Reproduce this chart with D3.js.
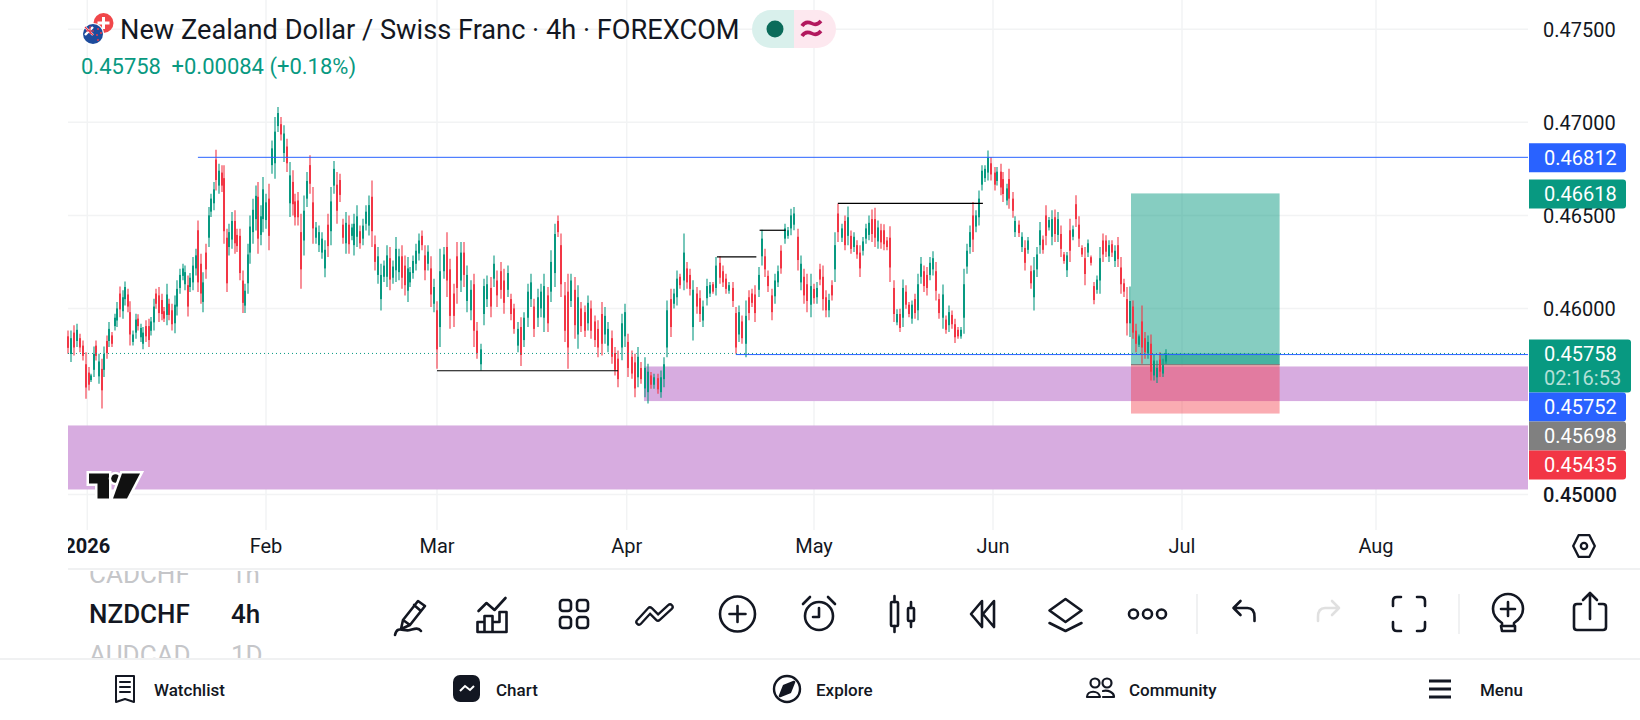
<!DOCTYPE html>
<meta charset="utf-8">
<style>
body { margin: 0; background: #fff; overflow: hidden; }
text { font-family: Roboto, sans-serif; fill: #131722; }
.grid { stroke: #f2f3f4; stroke-width: 1.5px; }
.ico { fill: none; stroke: #131722; stroke-width: 2.6px; stroke-linecap: round; stroke-linejoin: round; }
</style>
<body>
<script src="https://d3js.org/d3.v7.min.js"></script>
<script>

// candles, price in 1e-5 units
var highs = [
45882,45882,45909,45918,45864,45828,45765,45685,45649,45796,
45828,45756,45730,45796,45855,45927,45873,45971,46034,46118,
46097,46145,46106,46039,45882,45971,45968,45918,45900,45936,
45945,45954,46052,46106,46115,46079,46007,46133,46052,46025,
46070,46151,46213,46240,46231,46177,46190,46276,46321,46473,
46294,46195,46348,46545,46616,46679,46853,46778,46769,46769,
46428,46455,46518,46527,46428,46428,46204,46133,46348,46500,
46590,46661,46679,46554,46706,46616,46670,46903,47029,47082,
47029,46984,46912,46787,46742,46616,46625,46509,46607,46733,
46823,46652,46464,46446,46410,46366,46509,46652,46792,46733,
46724,46482,46518,46500,46455,46509,46554,46446,46482,46554,
46607,46688,46392,46330,46240,46258,46339,46330,46258,46384,
46321,46339,46285,46276,46222,46285,46348,46402,46419,46339,
46339,46281,46160,46038,
46321,46330,46410,46267,46133,46357,46357,46357,46231,46151,
46186,45927,45810,46160,46177,46169,46285,46204,46249,46213,
46231,46079,46025,45927,45953,45980,46133,46186,46052,46106,
46133,46186,46115,46312,46455,46500,46402,46142,46186,46186,
46169,46124,46034,46016,46070,46043,45962,45936,46034,46007,
45927,45882,45792,45774,45971,46025,45864,45774,45756,45792,
45712,45738,45703,45658,45649,45649,45667,45738,46043,46106,
46106,46204,46186,46402,46249,46213,46151,46115,46097,46043,
46160,46142,46142,46276,46280,46231,46186,46142,46142,46007,
46016,45962,46043,46097,46106,46124,46222,46423,46321,46204,
46106,46186,46231,46339,46455,46437,46536,46545,46428,46285,
46213,46186,46186,46133,46142,46240,46231,46097,46079,46151,
46410,46563,46455,46500,46548,46419,46410,46366,46339,46384,
46455,46500,46532,46541,46473,46455,46452,46384,46441,46151,
45995,45998,46156,46124,46034,46043,46079,46186,46276,46231,
46222,46276,46307,46249,46079,46129,45962,46016,45989,45945,
45900,45900,46213,46348,46446,46572,46527,46634,46769,46769,
46849,46814,46760,46760,46778,46733,46670,46751,46625,46495,
46473,46410,46366,46384,46231,46276,46330,46464,46392,46554,
46491,46527,46532,46518,46446,46303,46303,46482,46446,46608,
46495,46339,46330,46371,46285,46142,46177,46330,46402,46393,
46366,46366,46339,46384,46276,46160,46115,46118,46043,45918,
45860,46016,45873,45855,45860,45753,45720,45765,45729,45780];

var lows = [
45756,45712,45747,45792,45765,45720,45514,45559,45604,45631,
45720,45595,45462,45631,45730,45792,45792,45882,45900,45953,
45945,46016,45980,45801,45801,45837,45882,45819,45780,45819,
45792,45855,45882,45998,45927,45936,45927,45909,45936,45882,
45867,45962,46079,46151,46097,45957,46088,46097,46177,46088,
46025,45980,46160,46330,46491,46527,46634,46616,46625,46348,
46088,46285,46321,46294,46303,46151,45975,45975,46079,46240,
46348,46419,46294,46339,46410,46428,46312,46724,46697,46948,
46903,46787,46733,46491,46500,46446,46446,46106,46285,46545,
46616,46348,46348,46303,46267,46168,46276,46339,46616,46455,
46572,46348,46294,46294,46366,46285,46330,46321,46339,46419,
46392,46330,46204,46133,45989,46142,46115,46097,46133,46142,
46151,46106,46070,46034,46115,46160,46204,46258,46312,46151,
46204,46007,45980,45676,
45792,46160,46061,45891,45900,46025,46088,46115,45980,45936,
45792,45729,45667,45909,46007,45953,46115,46007,46052,45971,
46061,45936,45864,45765,45690,45792,45900,46007,45846,45900,
45953,45873,45873,46034,46115,46384,46061,45819,45676,46007,
45837,45783,45873,45846,45882,45837,45792,45738,45747,45810,
45765,45703,45640,45577,45721,45792,45631,45622,45523,45577,
45595,45523,45489,45568,45568,45541,45520,45577,45738,45846,
46000,46016,46106,46097,46106,46070,45828,45971,45927,45900,
46016,46061,46079,46070,46133,46115,46079,46079,46007,45756,
45819,45810,45738,45936,46007,45927,46061,46231,46169,46088,
45936,46025,46115,46186,46348,46375,46393,46420,46204,46097,
46025,45980,45953,46025,46025,46124,45989,45953,45953,46043,
46142,46357,46357,46312,46339,46294,46303,46267,46169,46285,
46348,46366,46357,46330,46321,46321,46312,46312,46142,45927,
45909,45873,45900,45998,45953,45918,45945,45936,46133,46088,
46070,46151,46177,46043,45945,45891,45864,45873,45891,45814,
45837,45837,45864,46186,46294,46303,46410,46446,46634,46679,
46688,46688,46634,46661,46608,46572,46554,46536,46487,46384,
46384,46303,46204,46294,46106,45989,46169,46294,46294,46339,
46419,46339,46357,46357,46276,46240,46169,46249,46366,46437,
46330,46276,46124,46276,46231,46022,46079,46079,46249,46276,
46249,46276,46222,46222,46079,46061,45855,45846,45837,45765,
45792,45703,45729,45729,45613,45613,45599,45631,45631,45703];

var opens = [
45850,45755,45870,45825,45840,45800,45700,45655,45615,45670,
45800,45635,45675,45670,45825,45825,45855,45905,45935,46080,
45985,46050,46075,45980,45820,45870,45945,45845,45810,45905,
45905,45880,45925,46080,46070,46045,45985,45965,46025,45990,
45920,46010,46110,46175,46130,46125,46115,46140,46215,46420,
46240,46035,46300,46380,46520,46565,46800,46660,46730,46700,
46380,46330,46370,46470,46395,46390,46150,46015,46135,46300,
46410,46480,46600,46395,46480,46475,46590,46770,46780,46980,
46990,46835,46870,46565,46680,46575,46580,46410,46365,46590,
46770,46570,46380,46340,46300,46215,46450,46415,46660,46665,
46690,46450,46350,46450,46390,46340,46385,46415,46375,46455,
46445,46600,46345,46180,46050,46170,46170,46270,46165,46205,
46195,46280,46230,46095,46140,46190,46240,46295,46390,46285,
46240,46215,46025,45990,
45900,46200,46330,46210,46080,46280,46150,46300,46040,45990,
46130,45880,45700,45970,46050,46110,46160,46150,46200,46150,
46100,46050,46000,45800,45900,45830,45950,46050,46010,45950,
46000,45950,46070,46090,46190,46470,46340,46070,46090,46040,
46100,45860,46000,45980,45920,46000,45930,45890,45970,45860,
45800,45840,45760,45730,45790,45850,45820,45740,45710,45630,
45680,45570,45550,45640,45590,45625,45550,45620,45790,46050,
46025,46060,46170,46150,46215,46180,45900,46080,46055,45935,
46055,46080,46130,46110,46245,46200,46160,46095,46110,45975,
45860,45930,45810,46060,46080,46075,46100,46280,46280,46175,
46070,46065,46140,46310,46375,46390,46430,46450,46385,46140,
46170,46130,46020,46105,46060,46210,46170,46060,45990,46125,
46210,46510,46380,46470,46390,46390,46330,46340,46300,46310,
46375,46395,46480,46480,46360,46420,46420,46365,46380,46110,
45925,45970,45950,46090,46020,45945,46050,45990,46170,46200,
46180,46180,46210,46200,46050,45950,45940,45910,45965,45915,
45885,45850,45950,46225,46330,46500,46440,46490,46665,46700,
46730,46780,46730,46685,46735,46695,46580,46695,46590,46410,
46450,46330,46325,46315,46200,46060,46210,46340,46370,46500,
46435,46385,46490,46395,46400,46290,46205,46420,46385,46560,
46450,46325,46270,46300,46275,46120,46100,46150,46365,46365,
46280,46345,46255,46340,46220,46135,46050,45920,46010,45880,
45805,45930,45840,45760,45810,45640,45630,45725,45650,45715];

var closes = [
45788,45840,45790,45885,45790,45745,45575,45590,45640,45755,
45745,45715,45560,45755,45760,45890,45810,45950,46000,45995,
46060,46115,46010,45860,45860,45940,45905,45895,45870,45850,
45830,45930,46010,46025,45975,45970,45945,46075,45965,45915,
46020,46105,46180,46215,46195,46010,46165,46230,46285,46140,
46080,46140,46210,46500,46590,46640,46690,46740,46660,46415,
46135,46410,46470,46350,46335,46190,46030,46095,46290,46440,
46530,46605,46375,46495,46640,46570,46390,46860,46950,47050,
46935,46940,46780,46715,46560,46490,46490,46210,46525,46685,
46670,46430,46435,46410,46375,46315,46335,46575,46750,46525,
46610,46380,46460,46345,46435,46455,46495,46350,46445,46520,
46555,46415,46250,46280,46180,46230,46285,46155,46225,46320,
46280,46165,46125,46215,46195,46255,46310,46365,46340,46205,
46305,46075,46115,45780,
46200,46290,46150,45960,45960,46110,46300,46180,46180,46100,
45880,45760,45780,46120,46130,46010,46240,46070,46100,46030,
46190,45970,45890,45890,45750,45950,46090,46140,45890,46060,
46090,46120,45920,46250,46400,46410,46130,45880,45790,46150,
45910,46060,45905,45880,46030,45880,45830,45790,45810,45960,
45890,45740,45670,45620,45920,45980,45680,45650,45570,45740,
45620,45680,45660,45590,45630,45565,45630,45700,45990,45900,
46080,46160,46125,46300,46140,46105,46100,46010,45970,46010,
46120,46125,46090,46230,46165,46140,46105,46125,46040,45790,
45980,45840,45960,45975,46030,45975,46180,46375,46210,46120,
45980,46150,46200,46215,46430,46420,46500,46510,46260,46240,
46070,46040,46120,46055,46110,46155,46050,45990,46045,46070,
46340,46410,46430,46340,46490,46320,46385,46290,46215,46360,
46430,46460,46400,46380,46435,46355,46345,46330,46220,45970,
45970,45895,46110,46020,45970,46020,45975,46130,46240,46120,
46110,46245,46270,46095,45975,46075,45885,45980,45915,45845,
45850,45885,46130,46310,46410,46370,46500,46590,46740,46750,
46810,46720,46665,46735,46650,46615,46645,46590,46525,46470,
46405,46385,46245,46365,46135,46205,46290,46420,46315,46390,
46475,46480,46400,46480,46320,46255,46285,46310,46425,46480,
46375,46290,46185,46350,46245,46045,46155,46270,46290,46305,
46340,46300,46310,46265,46130,46090,45920,46040,45870,45810,
45850,45790,45765,45820,45660,45720,45680,45660,45695,45758];

// axis labels
var monthLabels = ["2026", "Feb", "Mar", "Apr", "May", "Jun", "Jul", "Aug"];
var monthBars = [6.5, 75, 133, 189.5, 247, 305.5, 368.5, 433.5];
var priceTicks = [47500, 47000, 46500, 46000, 45000];

// price tags on the right axis
var tagValues = [46812, 46618, 45758, 45752, 45698, 45435];
var tagColors = ["#2962ff", "#089981", "#089981", "#2962ff", "#808080", "#f23645"];

// drawings, [bar from, bar to, price]
var blueLines = [[48.9, 500, 46812], [223, 500, 45752]];
var blackLines = [[133, 186.9, 45665], [217.2, 229.3, 46277], [230.3, 238.3, 46420], [254.8, 302.2, 46565]];
// zones, [bar from, bar to, price top, price bottom]
var zones = [[194.8, 500, 45688, 45502], [0, 500, 45371, 45027]];
var position = {from: 351.5, to: 401.2, target: 46618, entry: 45698, stop: 45435, last: 45758, started: 361};

var left = 68, right = 1528;

var x = d3.scaleLinear()
    .domain([0].concat(monthBars))
    .range([left, 87.3, 266, 437, 626.7, 814, 993, 1182, 1376]);
var y = d3.scaleLinear().domain([45000, 47500]).range([494.5, 29.3]);
var fmt = d => "0." + d;
var plotX = b => Math.min(x(b), right);

var svg = d3.select("body").append("svg").attr("width", 1640).attr("height", 720);

// grid
svg.append("g").selectAll("line").data(priceTicks).enter().append("line")
    .attr("class", "grid")
    .attr("x1", left).attr("x2", right)
    .attr("y1", d => y(d)).attr("y2", d => y(d));
svg.append("g").selectAll("line").data(monthBars).enter().append("line")
    .attr("class", "grid")
    .attr("x1", d => x(d)).attr("x2", d => x(d))
    .attr("y1", 0).attr("y2", 530);

// purple zones
svg.append("g").selectAll("rect").data(zones).enter().append("rect")
    .attr("x", d => plotX(d[0])).attr("width", d => plotX(d[1]) - plotX(d[0]))
    .attr("y", d => y(d[2])).attr("height", d => y(d[3]) - y(d[2]))
    .attr("fill", "#d7ace0");

// long position box
var pos = svg.append("g");
pos.append("rect")
    .attr("x", x(position.from)).attr("width", x(position.to) - x(position.from))
    .attr("y", y(position.target)).attr("height", y(position.entry) - y(position.target))
    .attr("fill", "#089981").attr("fill-opacity", 0.49);
pos.append("rect")
    .attr("x", x(position.started)).attr("width", x(position.to) - x(position.started))
    .attr("y", y(position.last)).attr("height", y(position.entry) - y(position.last))
    .attr("fill", "#089981").attr("fill-opacity", 0.5);
pos.append("rect")
    .attr("x", x(position.from)).attr("width", x(position.to) - x(position.from))
    .attr("y", y(position.entry)).attr("height", y(position.stop) - y(position.entry))
    .attr("fill", "#f23645").attr("fill-opacity", 0.41);
pos.append("line")
    .attr("x1", x(position.from)).attr("x2", x(position.to))
    .attr("y1", y(position.entry)).attr("y2", y(position.entry))
    .attr("stroke", "#808080").attr("stroke-width", 1.2);

// candles
var bars = d3.range(highs.length);
var color = i => closes[i] >= opens[i] ? "#089981" : "#f23645";
var candles = svg.append("g");
candles.selectAll("line").data(bars).enter().append("line")
    .attr("x1", i => Math.round(x(i))).attr("x2", i => Math.round(x(i)))
    .attr("y1", i => y(highs[i])).attr("y2", i => y(lows[i]))
    .attr("stroke", color).attr("stroke-width", 1.1);
candles.selectAll("rect").data(bars).enter().append("rect")
    .attr("x", i => Math.round(x(i)) - 1).attr("width", 2)
    .attr("y", i => y(Math.max(opens[i], closes[i])))
    .attr("height", i => Math.abs(y(opens[i]) - y(closes[i])))
    .attr("fill", color);

// last price line and drawings
svg.append("line")
    .attr("x1", left).attr("x2", right)
    .attr("y1", y(45758) ).attr("y2", y(45758))
    .attr("stroke", "#089981").attr("stroke-width", 1).attr("stroke-dasharray", "1 3");
svg.append("g").selectAll("line").data(blueLines).enter().append("line")
    .attr("x1", d => plotX(d[0])).attr("x2", d => plotX(d[1]))
    .attr("y1", d => y(d[2])).attr("y2", d => y(d[2]))
    .attr("stroke", "#2962ff").attr("stroke-width", 1);
svg.append("g").selectAll("line").data(blackLines).enter().append("line")
    .attr("x1", d => x(d[0])).attr("x2", d => x(d[1]))
    .attr("y1", d => y(d[2])).attr("y2", d => y(d[2]))
    .attr("stroke", "#000").attr("stroke-width", 1.2);

// price axis
svg.append("g").selectAll("text").data(priceTicks).enter().append("text")
    .attr("x", 1543).attr("y", d => y(d)).attr("dy", "0.36em")
    .attr("font-size", 20)
    .attr("font-weight", d => d == 45000 ? 500 : 400)
    .text(fmt);

// price tags, pushed down when they would overlap
var tagTop = 0;
tagValues.forEach(function(v, i) {
    var last = v == 45758, h = last ? 53 : 29;
    var top = Math.max(tagTop, y(v) - 14);
    tagTop = top + h;
    var g = svg.append("g");
    g.append("path")
        .attr("d", `M1529 ${top}H${last ? 1628 : 1623}a3 3 0 0 1 3 3V${top + h - 3}a3 3 0 0 1 -3 3H1529Z`)
        .attr("fill", tagColors[i]);
    g.append("text").attr("x", 1544).attr("y", top + 14.5).attr("dy", "0.36em")
        .attr("font-size", 20).style("fill", "#fff").text(fmt(v));
    if (last) g.append("text").attr("x", 1544).attr("y", top + 38.5).attr("dy", "0.36em")
        .attr("font-size", 20).style("fill", "#b5e0d8").text("02:16:53");
});

// time axis
svg.append("clipPath").attr("id", "plotClip").append("rect")
    .attr("x", left).attr("y", 520).attr("width", 1472).attr("height", 50);
svg.append("g").attr("clip-path", "url(#plotClip)")
    .selectAll("text").data(monthBars).enter().append("text")
    .attr("x", d => x(d)).attr("y", 546).attr("dy", "0.36em")
    .attr("text-anchor", "middle").attr("font-size", 20)
    .attr("font-weight", (d, i) => i == 0 ? 700 : 400)
    .text((d, i) => monthLabels[i]);

// title block
svg.append("text").attr("x", 120).attr("y", 29).attr("dy", "0.36em")
    .attr("font-size", 27.2)
    .text("New Zealand Dollar / Swiss Franc · 4h · FOREXCOM");
var sub = svg.append("g").attr("font-size", 22);
sub.append("text").attr("x", 81).attr("y", 66).attr("dy", "0.36em").style("fill", "#089981").text("0.45758");
sub.append("text").attr("x", 171.5).attr("y", 66).attr("dy", "0.36em").style("fill", "#089981").text("+0.00084 (+0.18%)");

// flags
var flags = svg.append("g");
flags.append("circle").attr("cx", 103.5).attr("cy", 23).attr("r", 10).attr("fill", "#f0474a");
flags.append("path").attr("d", "M102 17h3v4.5h4.5v3H105v4.5h-3v-4.5h-4.5v-3H102z").attr("fill", "#fff");
flags.append("circle").attr("cx", 93).attr("cy", 34).attr("r", 11).attr("fill", "#fff");
flags.append("circle").attr("cx", 93).attr("cy", 34).attr("r", 10).attr("fill", "#1d4b9c");
flags.append("path").attr("d", "M85 27l8 8M93 27l-8 8").attr("stroke", "#fff").attr("stroke-width", 2.4);
flags.append("path").attr("d", "M85 27l8 8M86 31h8M90 26v8").attr("stroke", "#e8374a").attr("stroke-width", 1.2);
flags.selectAll(".st").data([[98, 29], [101, 33], [97, 35], [98, 40]]).enter().append("circle")
    .attr("cx", d => d[0]).attr("cy", d => d[1]).attr("r", 1).attr("fill", "#e8374a");

// market status pill
var pill = svg.append("g");
pill.append("path").attr("d", "M794 10H771a19 19 0 0 0 0 38H794Z").attr("fill", "#d9f0ec");
pill.append("path").attr("d", "M794 10H817a19 19 0 0 1 0 38H794Z").attr("fill", "#fde8ef");
pill.append("circle").attr("cx", 775).attr("cy", 29).attr("r", 8.5).attr("fill", "#0b6b5a");
pill.append("path")
    .attr("d", "M802 26c3-5 7-4 10-2.500s6 1 9-2.500M802 36c3-5 7-4 10-2.500s6 1 9-2.500")
    .attr("fill", "none").attr("stroke", "#b2195e").attr("stroke-width", 3.6);

// logo
var logo = svg.append("g").attr("stroke", "#fff").attr("stroke-width", 5).style("paint-order", "stroke")
    .attr("stroke-linejoin", "miter").attr("fill", "#111");
logo.append("path").attr("d", "M89 473.500H109V498.500H97.500V483.500H89Z");
logo.append("circle").attr("cx", 115.5).attr("cy", 478.500).attr("r", 4.300);
logo.append("path").attr("d", "M122 473.500H140L127 498.500H113Z");

// separators
svg.append("line").attr("x1", left).attr("x2", 1640).attr("y1", 569).attr("y2", 569).attr("stroke", "#f0f1f2").attr("stroke-width", 2);
svg.append("line").attr("x1", 0).attr("x2", 1640).attr("y1", 659).attr("y2", 659).attr("stroke", "#f0f1f2").attr("stroke-width", 2);

// symbol picker
svg.append("clipPath").attr("id", "pickClip").append("rect")
    .attr("x", 60).attr("y", 571).attr("width", 220).attr("height", 87);
var pick = svg.append("g").attr("clip-path", "url(#pickClip)").attr("font-size", 26);
[["CADCHF", "1h", 574, "#c5c6c9", 400], ["NZDCHF", "4h", 614, "#131722", 500], ["AUDCAD", "1D", 655, "#c5c6c9", 400]].forEach(function(r) {
    pick.append("text").attr("x", 89).attr("y", r[2]).attr("dy", "0.36em").attr("font-weight", r[4]).style("fill", r[3]).text(r[0]);
    pick.append("text").attr("x", 231).attr("y", r[2]).attr("dy", "0.36em").attr("font-weight", r[4]).style("fill", r[3]).text(r[1]);
});

// toolbar icons
function icon(cx, cy) {
    return svg.append("g").attr("class", "ico").attr("transform", `translate(${cx},${cy})`);
}
var ic;
ic = icon(411, 614);
ic.append("path").attr("d", "M-8 6L7-13L14-8L-1 11L-10 15ZM3-9L10-3M-8 6L-1 11");
ic.append("path").attr("d", "M-16 21C-14 11-7 18-1 16C3 15 7 13 10 17");
ic = icon(492.500, 614);
ic.append("path").attr("d", "M-14-3L-6-11L2-4L13-16M-15 18V8H-8M-8 18V2H0V18M0 8H7V-2H14V18M-15 18H14");
ic = icon(574, 614);
[[-14, -14], [3, -14], [-14, 3], [3, 3]].forEach(d => ic.append("rect").attr("x", d[0]).attr("y", d[1]).attr("width", 11).attr("height", 11).attr("rx", 3));
ic = icon(655, 614);
ic.append("path").attr("d", "M-16 8L-5-4L3 4L15-7").attr("stroke-width", 7.5);
ic.append("path").attr("d", "M-16 8L-5-4L3 4L15-7").style("stroke", "#fff").attr("stroke-width", 3);
ic = icon(737.500, 614);
ic.append("circle").attr("r", 17.500);
ic.append("path").attr("d", "M-8 0H8M0-8V8");
ic = icon(819, 614);
ic.append("circle").attr("cy", 2).attr("r", 14);
ic.append("path").attr("d", "M0-6V3H-6M-16-10L-9-17M16-10L9-17");
ic = icon(902, 614);
ic.append("rect").attr("x", -11).attr("y", -12).attr("width", 7).attr("height", 24).attr("rx", 1);
ic.append("rect").attr("x", 6).attr("y", -6).attr("width", 6).attr("height", 13).attr("rx", 1);
ic.append("path").attr("d", "M-7.500-18V-12M-7.500 12V18M9-12V-6M9 7V13");
ic = icon(983, 614);
ic.append("path").attr("d", "M-1-13L-12 0L-1 13V-13ZM11-13L0 0L11 13V-13Z");
ic = icon(1065.500, 614);
ic.append("path").attr("d", "M0-15L16-3.500L0 8L-16-3.500ZM-16 9L0 17L16 9");
ic = icon(1147.500, 614);
[-14, 0, 14].forEach(d => ic.append("circle").attr("cx", d).attr("r", 4.500));
svg.append("path").attr("d", "M1197 594V634M1459 594V634").attr("stroke", "#f0f1f2").attr("stroke-width", 2);
ic = icon(1245.500, 614);
ic.append("path").attr("d", "M-5-13L-12-6L-5 1M-12-6H2C7-6 9-2 9 3V7");
ic = icon(1327, 614);
ic.append("path").attr("d", "M5-13L12-6L5 1M12-6H-2C-7-6-9-2-9 3V7").style("stroke", "#e0e0e0");
ic = icon(1409, 614);
ic.append("path").attr("d", "M-16-8V-13Q-16-17-12-17H-8M8-17H12Q16-17 16-13V-8M16 8V13Q16 17 12 17H8M-8 17H-12Q-16 17-16 13V8");
ic = icon(1508, 612);
ic.append("path").attr("d", "M-6 14V11C-12 7-15 2-15-3A15 15 0 0 1 15-3C15 2 12 7 6 11V14ZM-7 14H7V19H-6ZM-7-3H7M0-10V4");
ic = icon(1590, 612);
ic.append("path").attr("d", "M-9-8H-13Q-16-8-16-5V15Q-16 18-13 18H13Q16 18 16 15V-5Q16-8 13-8H9M0 7V-19M-7-12L0-19L7-12");
ic = icon(1584, 546);
ic.attr("transform", "translate(1584,546) scale(0.9)");
ic.append("path").attr("d", "M-6-12H6L12 0L6 12H-6L-12 0Z");
ic.append("circle").attr("r", 3.500);

// bottom nav
var nav = [["Watchlist", 154], ["Chart", 496], ["Explore", 816], ["Community", 1129], ["Menu", 1480]];
svg.append("g").selectAll("text").data(nav).enter().append("text")
    .attr("x", d => d[1]).attr("y", 690).attr("dy", "0.36em")
    .attr("font-size", 17).attr("font-weight", 500)
    .text(d => d[0]);
ic = icon(125, 689);
ic.append("path").attr("d", "M-9-13H9V13L0 10L-9 13ZM-5-7H5M-5-2H5M-5 3H5").attr("stroke-width", 2);
svg.append("rect").attr("x", 453).attr("y", 675).attr("width", 27).attr("height", 27).attr("rx", 7).attr("fill", "#131722");
svg.append("path").attr("d", "M460 691L465 686L470 690L474 686").attr("fill", "none").attr("stroke", "#fff").attr("stroke-width", 2);
ic = icon(787, 689);
ic.append("circle").attr("r", 13).attr("stroke-width", 2.4);
ic.append("path").attr("d", "M7-7L3 3L-7 7L-3-3Z").style("fill", "#131722");
ic = icon(1100, 689);
ic.append("circle").attr("cx", -5).attr("cy", -6).attr("r", 4.500).attr("stroke-width", 2.2);
ic.append("circle").attr("cx", 7).attr("cy", -6).attr("r", 4.500).attr("stroke-width", 2.2);
ic.append("path").attr("d", "M-13 8C-13 1-1 1 0 8ZM3 2C8 1 14 3 14 8H3").attr("stroke-width", 2.2);
svg.append("path").attr("d", "M1429 681H1451M1429 689H1451M1429 697H1451").attr("stroke", "#131722").attr("stroke-width", 3);

</script>
</body>
